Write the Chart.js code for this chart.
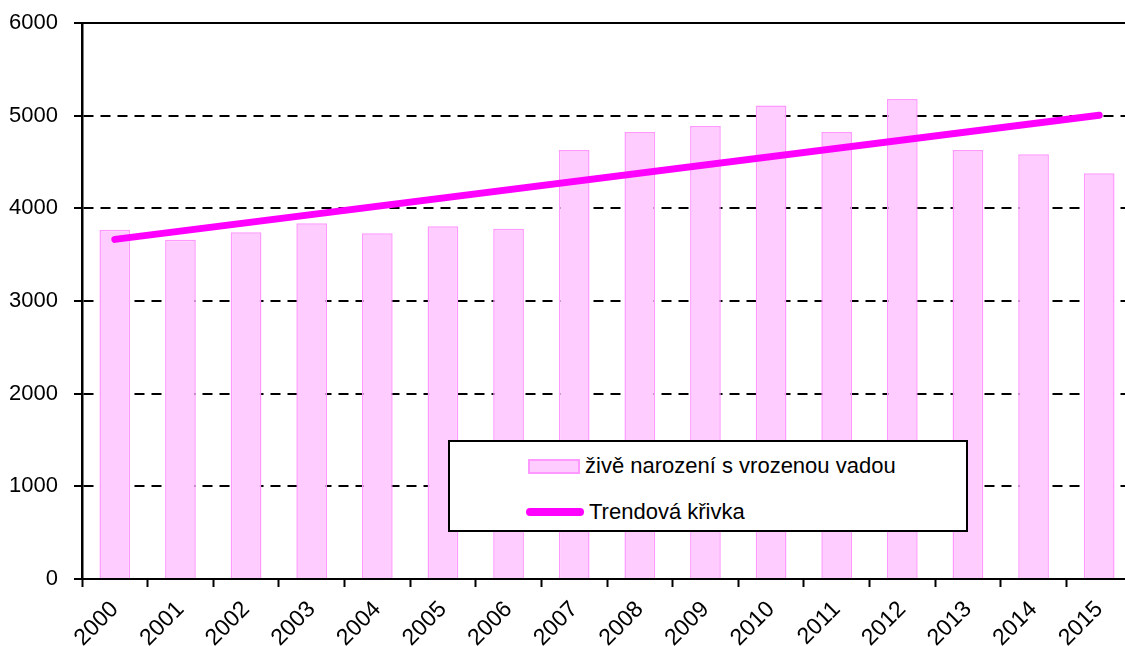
<!DOCTYPE html>
<html>
<head>
<meta charset="utf-8">
<script src="https://cdn.jsdelivr.net/npm/chart.js@4/dist/chart.umd.min.js"></script>
<style>
  html, body { margin: 0; padding: 0; background: #fff; overflow: hidden; width: 1125px; height: 646px; }
  #wrap { position: relative; width: 1132px; height: 646px; }
  #c { position: absolute; left: 0; top: 0; }
  #legend { position: absolute; left: 448px; top: 440px; width: 516px; height: 88px; border: 2px solid #000; background: #fff;
    font-family: 'Liberation Sans', Arial, sans-serif; font-size: 22px; color: #000; }
  .item { position: absolute; left: 78px; height: 30px; display: flex; align-items: center; white-space: nowrap; }
  .sw { display: inline-block; margin-right: 5px; box-sizing: border-box; }
</style>
</head>
<body>
<div id="wrap">
  <canvas id="c" width="1132" height="646"></canvas>
  <div id="legend"></div>
</div>
<script>
const years = ['2000','2001','2002','2003','2004','2005','2006','2007','2008','2009','2010','2011','2012','2013','2014','2015'];
const births = [3770, 3662, 3741, 3838, 3730, 3806, 3781, 4630, 4824, 4889, 5111, 4824, 5180, 4630, 4583, 4378];
const trendYears = ['2000', '2015'];
const trendValues = [3665, 5005];
const yTicks = [0, 1000, 2000, 3000, 4000, 5000, 6000];
const barLabel = 'živě narození s vrozenou vadou';
const trendLabel = 'Trendová křivka';

const FONT = "'Liberation Sans', Arial, sans-serif";
Chart.defaults.font.family = FONT;
Chart.defaults.font.size = 22;
Chart.defaults.color = '#000';

const topBorder = {
  id: 'topBorder',
  afterDraw(chart) {
    const {ctx, chartArea} = chart;
    ctx.save();
    ctx.strokeStyle = '#000';
    ctx.lineWidth = 2;
    ctx.beginPath();
    ctx.moveTo(chartArea.left - 8, chartArea.top);
    ctx.lineTo(chartArea.right, chartArea.top);
    ctx.stroke();
    ctx.restore();
  }
};

const chart = new Chart(document.getElementById('c'), {
  type: 'bar',
  data: {
    labels: years,
    datasets: [
      {
        type: 'line',
        label: trendLabel,
        data: trendYears.map((y, i) => ({x: y, y: trendValues[i]})),
        borderColor: '#FF00FF',
        backgroundColor: '#FF00FF',
        borderWidth: 7,
        borderCapStyle: 'round',
        pointRadius: 0,
        tension: 0,
        order: 0
      },
      {
        type: 'bar',
        label: barLabel,
        data: births,
        backgroundColor: '#FFCCFF',
        borderColor: '#FF99FF',
        borderWidth: 1.5,
        categoryPercentage: 1,
        barPercentage: 0.468,
        order: 1
      }
    ]
  },
  options: {
    responsive: false,
    animation: false,
    layout: { padding: { top: 23, right: 0, left: 0, bottom: 0 } },
    plugins: { legend: { display: false }, tooltip: { enabled: false } },
    scales: {
      x: {
        offset: true,
        grid: { display: true, drawOnChartArea: false, drawTicks: true, tickLength: 8, tickColor: '#000', tickWidth: 2, offset: true },
        border: { display: true, color: '#000', width: 2 },
        ticks: { maxRotation: 45, minRotation: 45, padding: 9, color: '#000', font: { size: 23 } },
        afterFit(scale) { scale.height = 67; scale.paddingLeft = 0; scale.paddingRight = 0; }
      },
      y: {
        min: 0, max: 6000,
        afterBuildTicks(scale) { scale.ticks = yTicks.map(v => ({value: v})); },
        grid: { color: '#000', lineWidth: 2, drawTicks: true, tickLength: 8, tickColor: '#000', tickWidth: 2 },
        border: { display: true, color: '#000', width: 2.5, dash: [10, 7] },
        ticks: { padding: 16, color: '#000', font: { size: 22 }, callback: (v) => String(v) },
        afterFit(scale) { scale.width = 82; scale.paddingTop = 0; scale.paddingBottom = 0; }
      }
    }
  },
  plugins: [topBorder]
});

// HTML legend built from datasets
const legend = document.getElementById('legend');
const barDs = chart.data.datasets[1];
const lineDs = chart.data.datasets[0];
const it1 = document.createElement('div');
it1.className = 'item'; it1.style.top = '9px';
it1.innerHTML = '<span class="sw" style="width:52px;height:15px;background:' + barDs.backgroundColor + ';border:2px solid ' + barDs.borderColor + '"></span><span></span>';
it1.lastChild.textContent = barDs.label;
const it2 = document.createElement('div');
it2.className = 'item'; it2.style.top = '55px'; it2.style.left = '76px';
it2.innerHTML = '<span class="sw" style="width:58px;height:8px;border-radius:4px;background:' + lineDs.borderColor + '"></span><span></span>';
it2.lastChild.textContent = lineDs.label;
legend.appendChild(it1);
legend.appendChild(it2);
</script>
</body>
</html>
